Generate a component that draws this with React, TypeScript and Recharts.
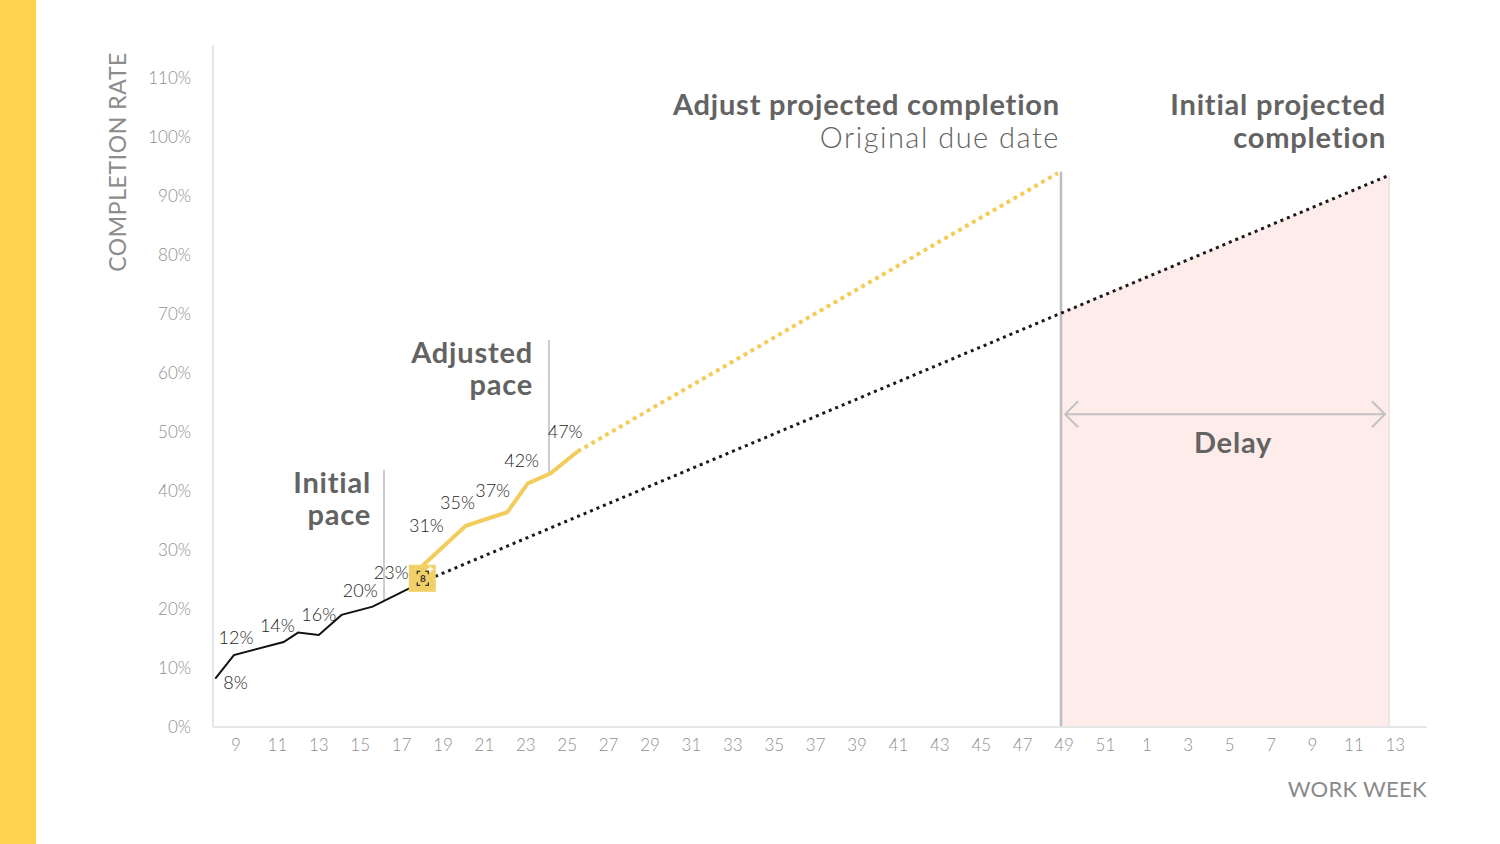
import React from "react";
import {
  ComposedChart,
  Line,
  Area,
  XAxis,
  YAxis,
  ReferenceLine,
  ReferenceDot,
  LabelList,
} from "recharts";

// completion readings, week numbers run on past 52 into the next year (53 = wk 1)
const actualWeeks = [8, 8.9, 11.3, 12, 13, 14.1, 15.6, 18];
const actualPct = [8.2, 12.2, 14.4, 16.0, 15.6, 19.0, 20.4, 24.6];

const adjustedWeeks = [18, 20.1, 22.1, 23.1, 24.2, 25.5];
const adjustedPct = [27.3, 34.1, 36.4, 41.3, 43.0, 46.7];

const adjustedProjectionWeeks = [25.5, 48.7];
const adjustedProjectionPct = [46.7, 93.9];

const initialProjectionWeeks = [18, 64.75];
const initialProjectionPct = [24.6, 93.6];

const delayWeeks = [48.85, 64.7];
const delayPct = [70.3, 93.5];

const readingWeeks = [8, 9, 11, 13, 15, 16.5, 18.2, 19.7, 21.4, 22.8, 24.9];
const readingPct = [8, 12, 14, 16, 20, 23, 31, 35, 37, 42, 47];

const currentWeek = 18;
const currentPct = 25.2;

const dueDateWeek = 48.85;
const dueDateTop = 94.1;
const initialPaceWeek = 16.15;
const initialPaceRange = [21.5, 43.6];
const adjustedPaceWeek = 24.12;
const adjustedPaceRange = [43, 65.6];
const delayArrowPct = 53;
const delayArrowWeeks = [49.05, 64.5];

const weekTicks = [
  9, 11, 13, 15, 17, 19, 21, 23, 25, 27, 29, 31, 33, 35, 37, 39, 41, 43, 45, 47,
  49, 51, 53, 55, 57, 59, 61, 63, 65,
];
const weekTickLabels = [
  "9", "11", "13", "15", "17", "19", "21", "23", "25", "27", "29", "31", "33",
  "35", "37", "39", "41", "43", "45", "47", "49", "51", "1", "3", "5", "7", "9",
  "11", "13",
];
const pctTicks = [0, 10, 20, 30, 40, 50, 60, 70, 80, 90, 100, 110];

const toPoints = (weeks: number[], pct: number[]) =>
  weeks.map((w, i) => ({ week: w, pct: pct[i] }));

const FONT = "Lato, 'Open Sans', sans-serif";
const YELLOW = "#F2CD5C";
const ANNOT = "#636363";

const annotText = {
  fontFamily: FONT,
  fontSize: 29,
  fontWeight: 700,
  letterSpacing: 0.8,
  fill: ANNOT,
} as const;

const ReadingLabel = (props: any) => {
  const { x, y, value, index } = props;
  const style = { fontFamily: FONT, fontSize: 18, fontWeight: 300, fill: "#1e1e1e" };
  if (index === 0) {
    return (
      <text x={x + 8} y={y} dy="0.5em" {...style}>
        {value}%
      </text>
    );
  }
  return (
    <text x={x} y={y - 12} textAnchor="middle" {...style}>
      {value}%
    </text>
  );
};

const DueDateLine = (p: any) => {
  const top = Math.min(p.y1, p.y2);
  return (
    <g>
      <line x1={p.x1} y1={p.y1} x2={p.x2} y2={p.y2} stroke="#bdbdbd" strokeWidth={2.5} />
      <text x={p.x1 - 1} y={top - 57} textAnchor="end" {...annotText}>
        Adjust projected completion
      </text>
      <text
        x={p.x1 - 1}
        y={top - 24}
        textAnchor="end"
        {...annotText}
        fontWeight={300}
        letterSpacing={1.5}
      >
        Original due date
      </text>
    </g>
  );
};

const DelayEdgeLine = (p: any) => {
  const top = Math.min(p.y1, p.y2);
  return (
    <g>
      <line x1={p.x1} y1={p.y1} x2={p.x2} y2={p.y2} stroke="#e2d6d4" strokeWidth={1} />
      <text x={p.x1 - 3} y={top - 60} textAnchor="end" {...annotText}>
        Initial projected
      </text>
      <text x={p.x1 - 3} y={top - 27} textAnchor="end" {...annotText}>
        completion
      </text>
    </g>
  );
};

const PaceLine = (lines: string[], dx: number) => (p: any) => {
  const top = Math.min(p.y1, p.y2);
  return (
    <g>
      <line x1={p.x1} y1={p.y1} x2={p.x2} y2={p.y2} stroke="#bdbdbd" strokeWidth={1.5} />
      {lines.map((t, i) => (
        <text key={t} x={p.x1 - dx} y={top + 23 + i * 32} textAnchor="end" {...annotText}>
          {t}
        </text>
      ))}
    </g>
  );
};

const DelayArrow = (p: any) => {
  const left = Math.min(p.x1, p.x2);
  const right = Math.max(p.x1, p.x2);
  const y = p.y1;
  return (
    <g fill="none" stroke="#c2c2c2" strokeWidth={2}>
      <line x1={left} y1={y} x2={right} y2={y} />
      <polyline points={`${left + 13},${y - 13} ${left},${y} ${left + 13},${y + 13}`} />
      <polyline points={`${right - 13},${y - 13} ${right},${y} ${right - 13},${y + 13}`} />
      <text
        x={(left + right) / 2 + 8}
        y={y + 39}
        textAnchor="middle"
        stroke="none"
        {...annotText}
      >
        Delay
      </text>
    </g>
  );
};

const CurrentMarker = (p: any) => {
  const { cx, cy } = p;
  return (
    <g>
      <rect x={cx - 13.5} y={cy - 13.5} width={27} height={27} fill="#F2D068" />
      <path
        d={`M${cx - 5},${cy - 4} v-3 h3 M${cx + 3},${cy - 7} h3 v3 M${cx + 6},${cy + 4} v3 h-3 M${cx - 2},${cy + 7} h-3 v-3`}
        stroke="#333"
        strokeWidth={1.3}
        fill="none"
      />
      <text x={cx + 0.5} y={cy + 4} textAnchor="middle" fontSize={10} fontFamily={FONT} fontWeight={700} fill="#333">
        8
      </text>
      <path d={`M${cx + 5},${cy - 9} h6 M${cx + 8},${cy - 12} v6`} stroke="#fff" strokeWidth={1.5} />
    </g>
  );
};

export default function App() {
  const tickStyle = { fill: "#8f8f8f", fontSize: 17, fontFamily: FONT, fontWeight: 300 };

  return (
    <div
      style={{
        position: "absolute",
        left: 0,
        top: 0,
        width: 1500,
        height: 844,
        background: "#fff",
        overflow: "hidden",
      }}
    >
      <div
        style={{ position: "absolute", left: 0, top: 0, width: 36, height: 844, background: "#FFD34D" }}
      />
      <ComposedChart
        width={1500}
        height={844}
        margin={{ top: 45, right: 73, bottom: 0, left: 0 }}
        style={{ position: "absolute", left: 0, top: 0 }}
      >
        <XAxis
          type="number"
          dataKey="week"
          domain={[7.89, 66.53]}
          ticks={weekTicks}
          tickFormatter={(_v: number, i: number) => weekTickLabels[i]}
          interval={0}
          height={117}
          tickLine={false}
          tickSize={0}
          tickMargin={12}
          axisLine={{ stroke: "#e6e6e6", strokeWidth: 2 }}
          tick={tickStyle}
          allowDataOverflow
          label={(props: any) => {
            const vb = props.viewBox;
            return (
              <text
                x={vb.x + vb.width}
                y={vb.y + 70}
                textAnchor="end"
                fontFamily={FONT}
                fontSize={22}
                letterSpacing={0.3}
                fill="#8a8a8a"
              >
                WORK WEEK
              </text>
            );
          }}
        />
        <YAxis
          type="number"
          domain={[0, 115.6]}
          ticks={pctTicks}
          tickFormatter={(v: number) => `${v}%`}
          width={213}
          tickLine={false}
          tickSize={0}
          tickMargin={22}
          axisLine={{ stroke: "#e6e6e6", strokeWidth: 2 }}
          tick={tickStyle}
          allowDataOverflow
          label={(props: any) => {
            const vb = props.viewBox;
            const x = vb.x + 126;
            const y = vb.y + 7;
            return (
              <text
                x={x}
                y={y}
                transform={`rotate(-90 ${x} ${y})`}
                textAnchor="end"
                fontFamily={FONT}
                fontSize={23}
                letterSpacing={0.6}
                fill="#8c8c8c"
              >
                COMPLETION RATE
              </text>
            );
          }}
        />

        <Area
          data={toPoints(delayWeeks, delayPct)}
          dataKey="pct"
          type="linear"
          stroke="none"
          fill="#FDECEA"
          fillOpacity={1}
          isAnimationActive={false}
        />

        <ReferenceLine
          segment={[
            { x: dueDateWeek, y: 0 },
            { x: dueDateWeek, y: dueDateTop },
          ]}
          shape={DueDateLine}
        />
        <ReferenceLine
          segment={[
            { x: delayWeeks[1], y: 0 },
            { x: delayWeeks[1], y: delayPct[1] },
          ]}
          shape={DelayEdgeLine}
        />
        <ReferenceLine
          segment={[
            { x: initialPaceWeek, y: initialPaceRange[0] },
            { x: initialPaceWeek, y: initialPaceRange[1] },
          ]}
          shape={PaceLine(["Initial", "pace"], 13)}
        />
        <ReferenceLine
          segment={[
            { x: adjustedPaceWeek, y: adjustedPaceRange[0] },
            { x: adjustedPaceWeek, y: adjustedPaceRange[1] },
          ]}
          shape={PaceLine(["Adjusted", "pace"], 16)}
        />
        <ReferenceLine
          segment={[
            { x: delayArrowWeeks[0], y: delayArrowPct },
            { x: delayArrowWeeks[1], y: delayArrowPct },
          ]}
          shape={DelayArrow}
        />

        <Line
          data={toPoints(initialProjectionWeeks, initialProjectionPct)}
          dataKey="pct"
          type="linear"
          stroke="#1a1a1a"
          strokeWidth={3}
          strokeDasharray="3 4"
          dot={false}
          activeDot={false}
          isAnimationActive={false}
        />
        <Line
          data={toPoints(adjustedProjectionWeeks, adjustedProjectionPct)}
          dataKey="pct"
          type="linear"
          stroke={YELLOW}
          strokeWidth={4}
          strokeDasharray="4 4"
          dot={false}
          activeDot={false}
          isAnimationActive={false}
        />
        <Line
          data={toPoints(actualWeeks, actualPct)}
          dataKey="pct"
          type="linear"
          stroke="#111"
          strokeWidth={2}
          dot={false}
          activeDot={false}
          isAnimationActive={false}
        />
        <Line
          data={toPoints(adjustedWeeks, adjustedPct)}
          dataKey="pct"
          type="linear"
          stroke={YELLOW}
          strokeWidth={4}
          dot={false}
          activeDot={false}
          isAnimationActive={false}
        />
        <Line
          data={toPoints(readingWeeks, readingPct)}
          dataKey="pct"
          type="linear"
          stroke="none"
          dot={false}
          activeDot={false}
          isAnimationActive={false}
        >
          <LabelList dataKey="pct" content={ReadingLabel} />
        </Line>

        <ReferenceDot x={currentWeek} y={currentPct} shape={CurrentMarker} />
      </ComposedChart>
    </div>
  );
}
